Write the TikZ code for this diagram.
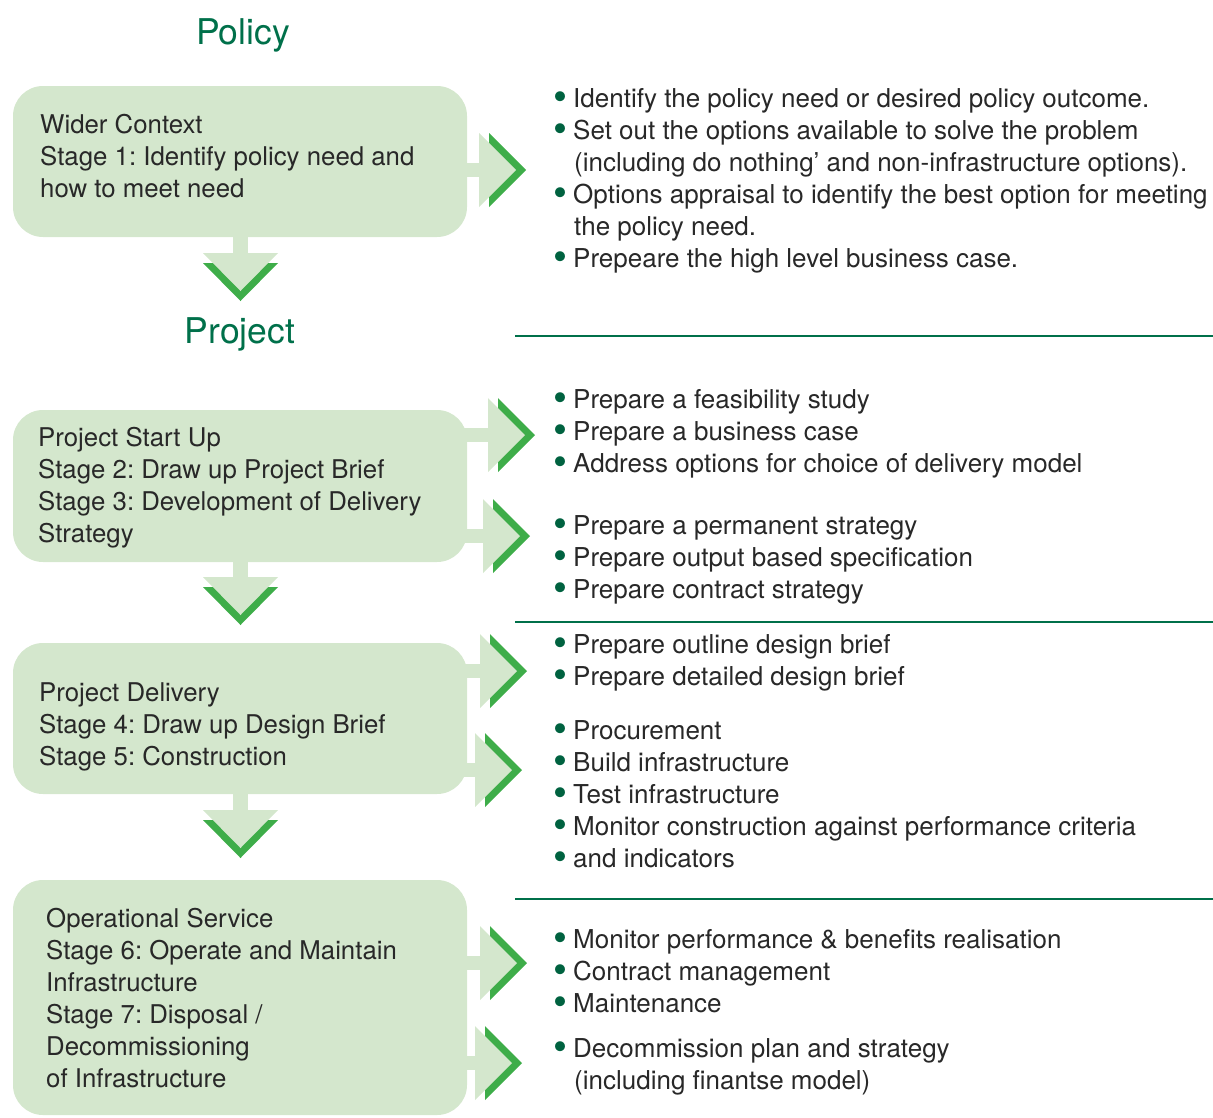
\documentclass[tikz,border=0pt]{standalone}
\usepackage{fontspec}
\setmainfont{TeX Gyre Heros}
\usetikzlibrary{positioning}
\usetikzlibrary{calc}

\definecolor{boxgreen}{RGB}{212,231,205}
\definecolor{chevgreen}{RGB}{62,173,73}
\definecolor{headgreen}{RGB}{0,112,74}
\definecolor{dotgreen}{RGB}{0,98,64}
\definecolor{ink}{RGB}{40,40,40}

\frenchspacing
\newcommand{\stagetext}{\fontsize{25.8}{32}\selectfont}
\newcommand{\tasktext}{\fontsize{26}{32}\selectfont}
\newcommand{\headtext}{\fontsize{35.5}{40}\selectfont}
% bullet and hanging indent for the task lists
\newcommand{\bul}{\makebox[17pt][l]{\hspace*{-2.5pt}\raisebox{-3.5pt}[0pt][0pt]{%
    \textcolor{dotgreen}{\fontsize{40}{32}\selectfont\textbullet}}}}
\newcommand{\hang}{\hspace*{18pt}}

\tikzset{
    % Rounded box holding one phase of the process
    stage box/.style={
        fill=boxgreen, rounded corners=30pt,
        minimum width=454pt, inner sep=0pt},
%
    % Text inside a phase box, placed by the baseline of its last line
    stage label/.style={anchor=base west, align=left, inner sep=0,
        text=ink, font=\stagetext},
%
    % Green section titles
    heading/.style={text=headgreen, font=\headtext, inner sep=0},
%
    % Lists of tasks on the right, also placed by their last line
    task list/.style={anchor=base west, align=left, inner sep=0,
        text=ink, font=\tasktext},
%
    % Thin rule between the phases
    phase rule/.style={draw=headgreen, line width=1.4pt},
%
    % Light body of the fat arrows and its darker shadow
    arrow body/.style={fill=boxgreen},
    arrow shade/.style={fill=chevgreen}}
\pgfdeclarelayer{background}
\pgfsetlayers{background,main}

% Fat arrow from box #1 with its head starting at #2
\newcommand{\sidearrow}[2]{%
    \begin{pgfonlayer}{background}
    \fill[arrow body] ($(#1.east |- #2)+(-30,-7)$) rectangle ($(#2)+(1,7)$);
    \fill[arrow shade] ($(#2)+(10,-37)$) -- ++(37,37) -- ++(-37,37) -- cycle;
    \fill[arrow body] ($(#2)+(0,-37)$) -- ++(37,37) -- ++(-37,37) -- cycle;
    \end{pgfonlayer}}

% Fat arrow down from box #1 with its head starting at #2
\newcommand{\nextstage}[2]{%
    \begin{pgfonlayer}{background}
    \fill[arrow body] ($(#1.south)+(-7,-5)$) rectangle ($(#2)+(7,1)$);
    \fill[arrow shade] ($(#2)+(-37.5,10)$) -- ++(37.5,38) -- ++(37.5,-38) -- cycle;
    \fill[arrow body] ($(#2)+(-37.5,0)$) -- ++(37.5,38) -- ++(37.5,-38) -- cycle;
    \end{pgfonlayer}}

\begin{document}
\begin{tikzpicture}[x=1pt, y=-1pt]
\useasboundingbox (0,0) rectangle (1213,1117);

% Section titles
\node[heading, anchor=base] (policy) at (243,44) {Policy};
\node[heading, anchor=base] (project) at (240,343) {Project};

% The four phases
\node[stage box, minimum height=151pt] (wider) at (240,161.5) {};
\node[stage label] (wider text) at (40,197)
    {Wider Context\\Stage 1: Identify policy need and\\how to meet need};

\node[stage box, minimum height=152pt] (startup) at (240,486) {};
\node[stage label] (startup text) at (38,542)
    {Project Start Up\\Stage 2: Draw up Project Brief\\Stage 3: Development of Delivery\\Strategy};

\node[stage box, minimum height=151pt] (delivery) at (240,718.5) {};
\node[stage label] (delivery text) at (39,765)
    {Project Delivery\\Stage 4: Draw up Design Brief\\Stage 5: Construction};

\node[stage box, minimum height=235pt] (service) at (240,997.5) {};
\node[stage label] (service text) at (46,1087)
    {Operational Service\\Stage 6: Operate and Maintain\\Infrastructure\\Stage 7: Disposal /\\Decommissioning\\of Infrastructure};

% Tasks for each step
\node[task list] (need tasks) at (556,267)
    {\bul Identify the policy need or desired policy outcome.\\
     \bul Set out the options available to solve the problem\\
     \hang(including do nothing’ and non-infrastructure options).\\
     \bul Options appraisal to identify the best option for meeting\\
     \hang the policy need.\\
     \bul Prepeare the high level business case.};
\node[task list] (brief tasks) at (556,472)
    {\bul Prepare a feasibility study\\
     \bul Prepare a business case\\
     \bul Address options for choice of delivery model};
\node[task list] (strategy tasks) at (556,598)
    {\bul Prepare a permanent strategy\\
     \bul Prepare output based specification\\
     \bul Prepare contract strategy};
\node[task list] (design tasks) at (556,685)
    {\bul Prepare outline design brief\\
     \bul Prepare detailed design brief};
\node[task list] (build tasks) at (556,867)
    {\bul Procurement\\
     \bul Build infrastructure\\
     \bul Test infrastructure\\
     \bul Monitor construction against performance criteria\\
     \bul and indicators};
\node[task list] (operate tasks) at (556,1012)
    {\bul Monitor performance \& benefits realisation\\
     \bul Contract management\\
     \bul Maintenance};
\node[task list] (dispose tasks) at (556,1089)
    {\bul Decommission plan and strategy\\
     \hang(including finantse model)};

% Rules between the phases
\coordinate (rule a) at (515,336);
\coordinate (rule b) at (515,622);
\coordinate (rule c) at (515,899);
\draw[phase rule] (rule a) -- (rule a -| 1213,0);
\draw[phase rule] (rule b) -- (rule b -| 1213,0);
\draw[phase rule] (rule c) -- (rule c -| 1213,0);

% Arrows to the task lists
\coordinate (need head) at (479,170);
\coordinate (brief head) at (488,435);
\coordinate (strategy head) at (483,536);
\coordinate (design head) at (480,671);
\coordinate (build head) at (475,770);
\coordinate (operate head) at (480,963);
\coordinate (dispose head) at (475,1063);
\sidearrow{wider}{need head}
\sidearrow{startup}{brief head}
\sidearrow{startup}{strategy head}
\sidearrow{delivery}{design head}
\sidearrow{delivery}{build head}
\sidearrow{service}{operate head}
\sidearrow{service}{dispose head}

% Arrows down to the next phase
\coordinate (policy down) at (240.5,253);
\coordinate (startup down) at (240.5,577);
\coordinate (delivery down) at (240.5,810);
\nextstage{wider}{policy down}
\nextstage{startup}{startup down}
\nextstage{delivery}{delivery down}

\end{tikzpicture}
\end{document}
